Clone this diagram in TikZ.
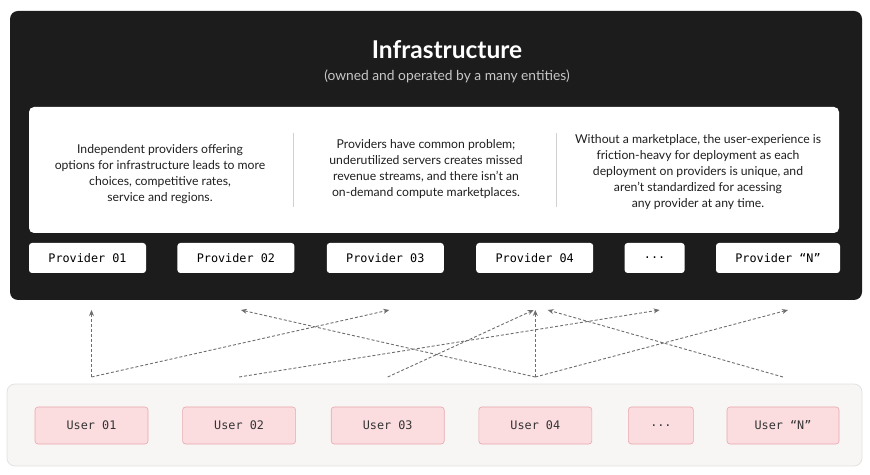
\documentclass[tikz,border=0pt]{standalone}
\usepackage{fontspec}
\setmainfont{Lato}
\setmonofont{DejaVu Sans Mono}
\usetikzlibrary{positioning, calc, arrows.meta}
\definecolor{infraDark}{HTML}{1C1C1C}
\definecolor{userFill}{HTML}{FBDDE0}
\definecolor{userLine}{HTML}{E9A7AE}
\definecolor{poolFill}{HTML}{F7F6F4}
\definecolor{poolLine}{HTML}{E4E2E0}
\definecolor{linkGray}{HTML}{6E6E6E}

\begin{document}
\begin{tikzpicture}[x=1pt, y=1pt,
    prov/.style={fill=white, rounded corners=3pt, minimum width=117pt, minimum height=30pt, inner sep=0pt, font=\ttfamily\fontsize{11.8}{13}\selectfont, text=black},
    user/.style={draw=userLine, fill=userFill, line width=0.6pt, rounded corners=3pt, minimum width=113pt, minimum height=37pt, inner sep=0pt, font=\ttfamily\fontsize{11.8}{13}\selectfont, text=black!80},
    desc/.style={font=\fontsize{12.2}{16}\selectfont, align=center, text=black!88},
    link/.style={dash pattern=on 3pt off 2pt, line width=0.9pt, draw=linkGray, -{Stealth[length=6pt, width=5pt]}}
]
\useasboundingbox (0,0) rectangle (870,474);

% infrastructure panel
\fill[infraDark, rounded corners=8pt] (10,174) rectangle (862,463);
\node[text=white, font=\fontsize{24.5}{28}\selectfont\bfseries] (title) at (447,424) {Infrastructure};
\node[text=white!78!black, font=\fontsize{13.8}{16}\selectfont] (subtitle) at (447,398) {(owned and operated by a many entities)};
\fill[white, rounded corners=5pt] (29,241) rectangle (839,367);
\draw[black!18, line width=0.6pt] (293,267) -- (293,341);
\draw[black!18, line width=0.6pt] (556,267) -- (556,341);

\node[desc] (d1) at (160,300) {Independent providers offering\\options for infrastructure leads to more\\choices, competitive rates,\\service and regions.};
\node[desc] (d2) at (426,305) {Providers have common problem;\\underutilized servers creates missed\\revenue streams, and there isn't an\\on-demand compute marketplaces.};
\node[desc] (d3) at (698,302) {Without a marketplace, the user-experience is\\friction-heavy for deployment as each\\deployment on providers is unique, and\\aren't standardized for acessing\\any provider at any time.};

\node[prov] (p1) at (87.5,216) {Provider 01};
\node[prov, right=31pt of p1] (p2) {Provider 02};
\node[prov, right=32pt of p2] (p3) {Provider 03};
\node[prov, right=32pt of p3] (p4) {Provider 04};
\node[prov, minimum width=60pt, right=31pt of p4] (pd) {...};
\node[prov, minimum width=124pt, right=31pt of pd] (pn) {Provider “N”};

% users
\filldraw[fill=poolFill, draw=poolLine, line width=0.8pt, rounded corners=8pt] (7,8) rectangle (862,90);
\node[user] (u1) at (91.5,48.5) {User 01};
\node[user, right=34pt of u1] (u2) {User 02};
\node[user, right=35pt of u2] (u3) {User 03};
\node[user, right=34pt of u3] (u4) {User 04};
\node[user, minimum width=65pt, right=36pt of u4] (ud) {...};
\node[user, minimum width=112pt, right=33pt of ud] (un) {User “N”};

% connections
\coordinate (top) at (0,164);
\coordinate (bot) at (0,97);
\draw[link] (u1 |- bot) -- (u1 |- top);
\draw[link] (u1 |- bot) -- ($(p3 |- top)+(4,0)$);
\draw[link] (u2 |- bot) -- ($(pd |- top)+(5,0)$);
\draw[link] (u3 |- bot) -- ($(p4 |- top)+(-1,0)$);
\draw[link] (u4 |- bot) -- (u4 |- top);
\draw[link] (u4 |- bot) -- ($(p2 |- top)+(5,0)$);
\draw[link] (u4 |- bot) -- ($(pn |- top)+(10,0)$);
\draw[link] (un |- bot) -- ($(p4 |- top)+(13,0)$);
\end{tikzpicture}
\end{document}
